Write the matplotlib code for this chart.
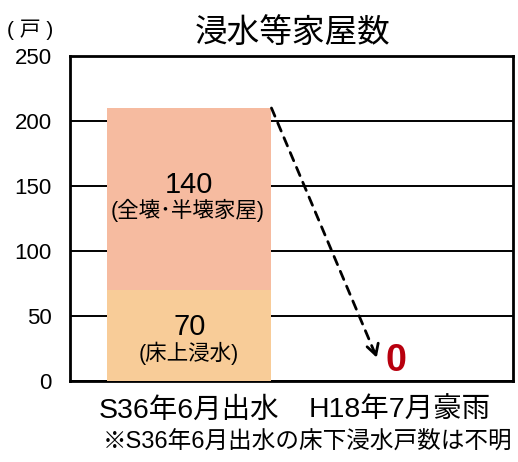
import matplotlib
matplotlib.use("Agg")
import matplotlib.pyplot as plt

# Latin glyphs from Liberation Sans, Japanese glyphs from Noto Sans CJK JP
plt.rcParams['font.family'] = ['Liberation Sans', 'Noto Sans CJK JP', 'DejaVu Sans']

# data
categories = ["S36年6月出水", "H18年7月豪雨"]
floor_above = [70, 0]        # 床上浸水
destroyed = [140, 0]         # 全壊・半壊家屋
yticks = [0, 50, 100, 150, 200, 250]

c_lower = "#F8CC98"
c_upper = "#F6BBA0"
c_zero = "#B8000E"

fig = plt.figure(figsize=(5.18, 4.62), dpi=100)
ax = fig.add_axes([70/518, 81/462, 443/518, 325/462])

x = [0, 1]
w = 0.78
ax.bar(x[0], floor_above[0], width=w, color=c_lower, zorder=3)
ax.bar(x[0], destroyed[0], width=w, bottom=floor_above[0], color=c_upper, zorder=3)

ax.set_xlim(-0.565, 1.535)
ax.set_ylim(0, 250)
ax.set_yticks(yticks)
ax.set_xticks(x)
ax.set_xticklabels(categories, fontsize=20.5)
ax.tick_params(axis='both', length=0)
ax.tick_params(axis='y', labelsize=16, pad=13)
ax.tick_params(axis='x', pad=12)

ax.grid(axis='y', color='black', linewidth=1.4, zorder=1)
ax.set_axisbelow(True)
for s in ax.spines.values():
    s.set_linewidth(2)
    s.set_color('black')

# segment labels
up_mid = floor_above[0] + destroyed[0] / 2
lo_mid = floor_above[0] / 2
ax.annotate(f"{destroyed[0]}", (x[0], up_mid), xytext=(0, 10), textcoords='offset points',
            ha='center', va='center', fontsize=21, zorder=5)
ax.annotate("(全壊･半壊家屋)", (x[0], up_mid), xytext=(-1, -8.5), textcoords='offset points',
            ha='center', va='center', fontsize=15.5, zorder=5)
ax.annotate(f"{floor_above[0]}", (x[0], lo_mid), xytext=(0, 6), textcoords='offset points',
            ha='center', va='center', fontsize=21, zorder=5)
ax.annotate("(床上浸水)", (x[0], lo_mid), xytext=(0, -13), textcoords='offset points',
            ha='center', va='center', fontsize=15.5, zorder=5)

# value for H18
total_h18 = floor_above[1] + destroyed[1]
ax.annotate(f"{total_h18}", (x[1], total_h18), xytext=(-3, 14.5), textcoords='offset points',
            ha='center', va='center', fontsize=27, fontweight='bold', color=c_zero, zorder=5)

# dashed decrease arrow
start = (x[0] + w / 2, floor_above[0] + destroyed[0])
end = (0.889, 18)
ax.annotate('', xy=end, xytext=start,
            arrowprops=dict(arrowstyle='-', linestyle=(0, (3.2, 2.6)), linewidth=2,
                            color='black', shrinkA=0, shrinkB=0), zorder=6)
ax.annotate('', xy=end, xytext=(end[0] - 0.01, end[1] + 5),
            arrowprops=dict(arrowstyle='->,head_length=0.75,head_width=0.42', linewidth=2,
                            color='black', shrinkA=0, shrinkB=0), zorder=6)

fig.text(0.5647, 0.9286, "浸水等家屋数", ha='center', va='center', fontsize=23.5)
fig.text(30/518, 0.935, "( 戸 )", ha='center', va='center', fontsize=15)
fig.text(0.593, 0.043, "※S36年6月出水の床下浸水戸数は不明", ha='center', va='center', fontsize=17)

fig.savefig("out.png", dpi=100)
